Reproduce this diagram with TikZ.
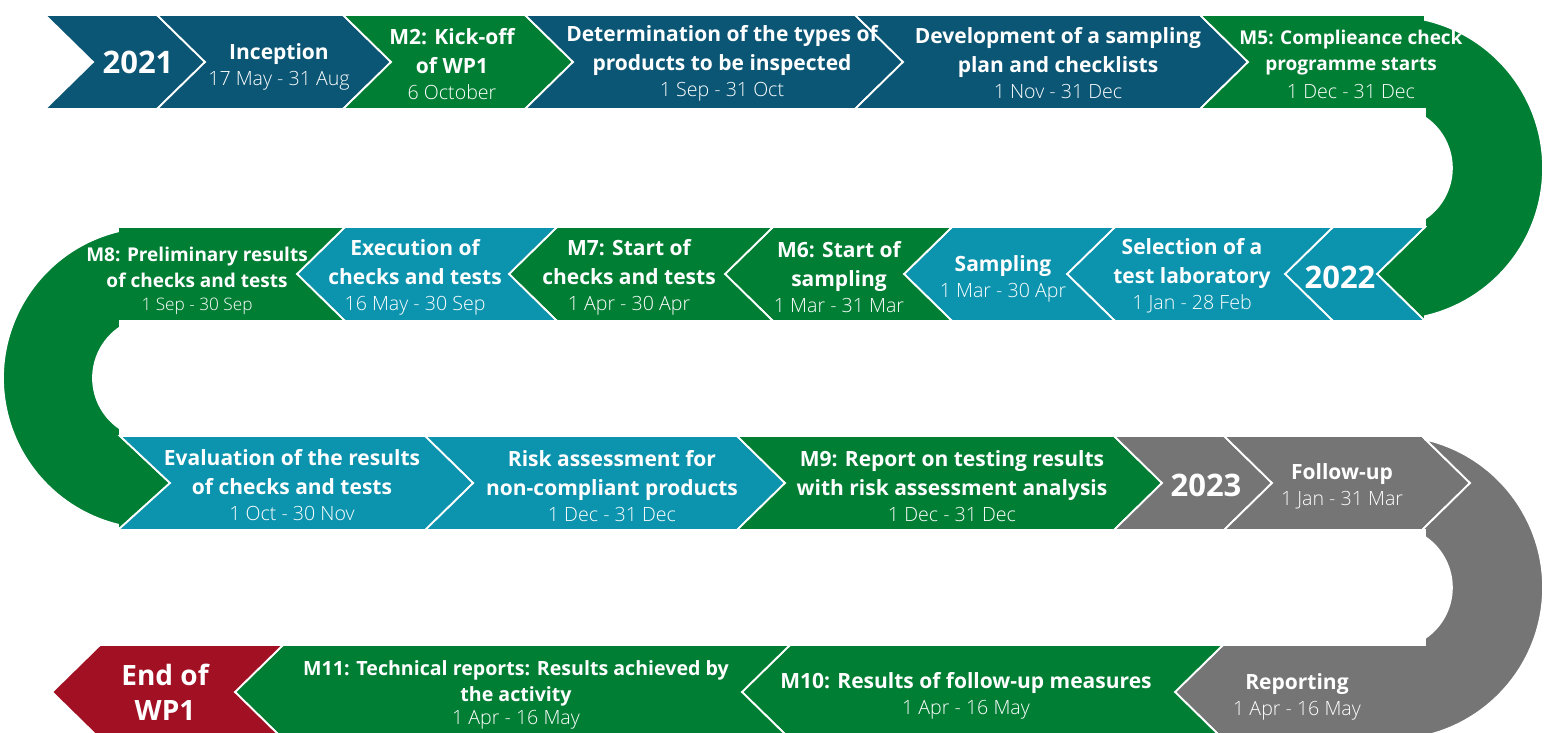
\documentclass[tikz,border=0pt]{standalone}
\usepackage{fontspec}
\setmainfont{Open Sans}
\newfontfamily\lightfont{Open Sans Light}
\definecolor{wpblue}{RGB}{11,86,116}
\definecolor{wpgreen}{RGB}{0,126,52}
\definecolor{wpteal}{RGB}{12,147,174}
\definecolor{wpgrey}{RGB}{117,117,117}
\definecolor{wpred}{RGB}{162,16,36}
\tikzstyle{chev} = [draw=white, line width=0.9pt, line join=miter]
\tikzstyle{task} = [text=white, align=center, inner sep=0pt, font=\bfseries\fontsize{10.5}{14.5}\selectfont]
\tikzstyle{small task} = [task, font=\bfseries\fontsize{9.5}{13}\selectfont]
\tikzstyle{year} = [task, font=\bfseries\fontsize{15.5}{17}\selectfont]
\tikzstyle{end task} = [task, font=\bfseries\fontsize{14}{17.5}\selectfont]
% date line under a task
\newcommand{\dt}[2][9.8]{\\[-1.5pt]{\lightfont\mdseries\fontsize{#1}{13}\selectfont #2}}

\begin{document}
\begin{tikzpicture}[x=0.5pt, y=-0.5pt]
    \useasboundingbox (0,0) rectangle (1547,733);

    % row 1, to the right
    \foreach \a/\b/\col in {45/157/wpblue, 157/343/wpblue, 343/525/wpgreen,
                            525/855/wpblue, 855/1200/wpblue}
        \path[chev, fill=\col] (\a,15) -- (\b,15) -- (\b+48,62) -- (\b,109)
            -- (\a,109) -- (\a+48,62) -- cycle;
    % first bend
    \path[chev, fill=wpgreen] (1200,15) -- (1425,15) -- (1425,19.9)
        arc[start angle=-77.1, end angle=77.1, radius=152]
        -- (1425,321) -- (1377,274) -- (1425,227) -- (1425,218.6)
        arc[start angle=56, end angle=-56, radius=61]
        -- (1425,109) -- (1200,109) -- (1248,62) -- cycle;

    % row 2, to the left
    \foreach \a/\b/\col in {1333/1425/wpteal, 1115/1333/wpteal, 952/1115/wpteal,
                            773/952/wpgreen, 557/773/wpgreen, 345/557/wpteal}
        \path[chev, fill=\col] (\a,227) -- (\b,227) -- (\b-48,274) -- (\b,321)
            -- (\a,321) -- (\a-48,274) -- cycle;
    % second bend
    \path[chev, fill=wpgreen] (345,227) -- (118,227) -- (118,231.4)
        arc[start angle=256.2, end angle=103.8, radius=151]
        -- (118,530) -- (170,483) -- (120,436) -- (120,428.6)
        arc[start angle=123.9, end angle=236.1, radius=61]
        -- (120,321) -- (345,321) -- (297,274) -- cycle;

    % row 3, to the right
    \foreach \a/\b/\col in {425/737/wpteal, 737/1114/wpgreen,
                            1114/1224/wpgrey, 1224/1422/wpgrey}
        \path[chev, fill=\col] (\a,436) -- (\b,436) -- (\b+48,483) -- (\b,530)
            -- (\a,530) -- (\a+48,483) -- cycle;
    \path[chev, fill=wpteal] (120,436) -- (425,436) -- (473,483) -- (425,530)
        -- (118,530) -- (170,483) -- cycle;
    % third bend
    \path[chev, fill=wpgrey] (1422,436) -- (1425,436) -- (1425,439.4)
        arc[start angle=-77.1, end angle=77.1, radius=152]
        -- (1425,739) -- (1223,739) -- (1175,692) -- (1223,645)
        -- (1425,645) -- (1425,638.1)
        arc[start angle=56, end angle=-56, radius=61]
        -- (1425,530) -- (1422,530) -- (1470,483) -- cycle;

    % row 4, to the left
    \foreach \a/\b/\col in {790/1223/wpgreen, 283/790/wpgreen, 100/283/wpred}
        \path[chev, fill=\col] (\a,645) -- (\b,645) -- (\b-48,692) -- (\b,739)
            -- (\a,739) -- (\a-48,692) -- cycle;

    % labels
    \node[year] (y2021) at (138,62) {2021};
    \node[task] (incep) at (279,66.5) {Inception\dt{17 May - 31 Aug}};
    \node[task] (kickoff) at (452,64.5) {M2: Kick-off\\of WP1\dt{6 October}};
    \node[task] (determ) at (722,63) {Determination of the types of\\products to be inspected\dt{1 Sep - 31 Oct}};
    \node[task] (develop) at (1058,63.5) {Development of a sampling\\plan and checklists\dt{1 Nov - 31 Dec}};
    \node[small task] (mfive) at (1351,64) {M5: Complieance check\\programme starts\\[1pt]%
        {\lightfont\mdseries\fontsize{9.8}{13}\selectfont 1 Dec - 31 Dec}};

    \node[small task] (meight) at (197,281) {M8: Preliminary results\\of checks and tests\dt[8.6]{1 Sep - 30 Sep}};
    \node[task] (exec) at (415,277.5) {Execution of\\checks and tests\dt{16 May - 30 Sep}};
    \node[task] (mseven) at (629,277.5) {M7: Start of\\checks and tests\dt{1 Apr - 30 Apr}};
    \node[task] (msix) at (839,277.5) {M6: Start of\\sampling\dt{1 Mar - 31 Mar}};
    \node[task] (sampl) at (1003,278.5) {Sampling\dt{1 Mar - 30 Apr}};
    \node[task] (select) at (1192,275.5) {Selection of a\\test laboratory\dt{1 Jan - 28 Feb}};
    \node[year] (y2022) at (1340,277) {2022};

    \node[task] (evalu) at (292,485.5) {Evaluation of the results\\of checks and tests\dt{1 Oct - 30 Nov}};
    \node[task] (risk) at (612,486.5) {Risk assessment for\\non-compliant products\dt{1 Dec - 31 Dec}};
    \node[task] (mnine) at (952,486.5) {M9: Report on testing results\\with risk assessment analysis\dt{1 Dec - 31 Dec}};
    \node[year] (y2023) at (1206,485) {2023};
    \node[task] (follow) at (1342,486.5) {Follow-up\dt{1 Jan - 31 Mar}};

    \node[end task] (endwp) at (165,692) {End of\\WP1};
    \node[small task, font=\bfseries\fontsize{9.8}{12.8}\selectfont] (meleven) at (516,695)
        {M11: Technical reports: Results achieved by\\the activity\dt{1 Apr - 16 May}};
    \node[task] (mten) at (966,695.5) {M10: Results of follow-up measures\dt{1 Apr - 16 May}};
    \node[task] (report) at (1297,696.5) {Reporting\dt{1 Apr - 16 May}};
\end{tikzpicture}
\end{document}
